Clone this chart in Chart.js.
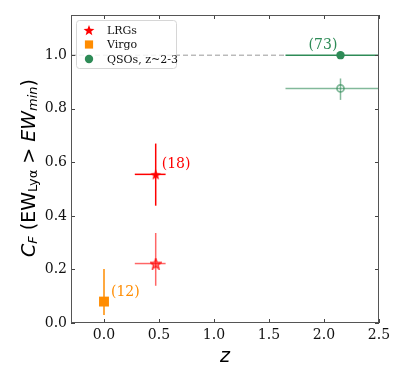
<!DOCTYPE html>
<html>
<head>
<meta charset="utf-8">
<script src="https://cdn.jsdelivr.net/npm/chart.js@4"></script>
<style>
  html, body { margin: 0; padding: 0; background: #fff; }
  #wrap { width: 407px; height: 378px; }
</style>
</head>
<body>
<div id="wrap"><canvas id="chart" width="407" height="378"></canvas></div>
<script>
// data
const lrgZ = [0.47, 0.47];
const lrgCF = [0.555, 0.222];
const lrgZLo = [0.28, 0.28];
const lrgZHi = [0.56, 0.56];
const lrgCFLo = [0.438, 0.139];
const lrgCFHi = [0.670, 0.336];

const virgoZ = [0.0];
const virgoCF = [0.08];
const virgoCFLo = [0.03];
const virgoCFHi = [0.202];

const qsoZ = [2.15, 2.15];
const qsoCF = [1.0, 0.876];
const qsoZLo = [1.65, 1.65];
const qsoZHi = [2.65, 2.65];
const qsoCFLo = [0.995, 0.833];
const qsoCFHi = [1.005, 0.913];

const refLineZ = [-0.3, 1.65];
const refLineCF = [1.0, 1.0];

const noteText = ["(73)", "(18)", "(12)"];
const noteZ = [1.86, 0.525, 0.063];
const noteCF = [1.037, 0.592, 0.116];

const xTicks = [0.0, 0.5, 1.0, 1.5, 2.0, 2.5];
const yTicks = [0.0, 0.2, 0.4, 0.6, 0.8, 1.0];

const RED = "#ff0000";
const RED_LIGHT = "rgba(255,0,0,0.6)";
const ORANGE = "#ff8c00";
const GREEN = "#2e8b57";
const GREEN_LIGHT = "rgba(46,139,87,0.6)";
const noteColors = [GREEN, RED, ORANGE];

// filled 5-point star like matplotlib '*'
function starImage(size, fill, stroke) {
    const c = document.createElement("canvas");
    c.width = size; c.height = size;
    const g = c.getContext("2d");
    const cx = size / 2, cy = size / 2 + 0.7;
    const R = size / 2 - 0.3, r = R * 0.42;
    g.beginPath();
    for (let i = 0; i < 10; i++) {
        const a = -Math.PI / 2 + i * Math.PI / 5;
        const rad = i % 2 === 0 ? R : r;
        g.lineTo(cx + rad * Math.cos(a), cy + rad * Math.sin(a));
    }
    g.closePath();
    g.fillStyle = fill;
    g.fill();
    if (stroke) { g.strokeStyle = stroke; g.lineWidth = 1.2; g.stroke(); }
    return c;
}

const starSolid = starImage(12, RED);
const starLight = starImage(12, "rgba(255,0,0,0.45)", "rgba(255,0,0,0.85)");

function errBars(xs, ys, xlo, xhi, ylo, yhi, color) {
    const sets = [];
    xs.forEach((x, i) => {
        const col = Array.isArray(color) ? color[i] : color;
        if (xlo && xhi) {
            sets.push({ data: [{ x: xlo[i], y: ys[i] }, { x: xhi[i], y: ys[i] }], borderColor: col });
        }
        sets.push({ data: [{ x: x, y: ylo[i] }, { x: x, y: yhi[i] }], borderColor: col });
    });
    return sets.map(s => Object.assign(s, {
        type: "line", showLine: true, pointRadius: 0, borderWidth: 1.5, order: 5
    }));
}

const markers = [
    {
        label: "LRGs", data: [{ x: lrgZ[0], y: lrgCF[0] }],
        pointStyle: starSolid, pointRadius: 6, order: 1
    },
    {
        label: "LRGs (light)", data: [{ x: lrgZ[1], y: lrgCF[1] }],
        pointStyle: starLight, pointRadius: 6, order: 1
    },
    {
        label: "Virgo", data: virgoZ.map((z, i) => ({ x: z, y: virgoCF[i] })),
        pointStyle: "rect", pointRadius: 7, backgroundColor: ORANGE, borderColor: ORANGE,
        borderWidth: 0, order: 1
    },
    {
        label: "QSOs, z~2-3", data: [{ x: qsoZ[0], y: qsoCF[0] }],
        pointStyle: "circle", pointRadius: 4.2, backgroundColor: GREEN, borderColor: GREEN,
        borderWidth: 0, order: 1
    },
    {
        label: "QSO open", data: [{ x: qsoZ[1], y: qsoCF[1] }],
        pointStyle: "circle", pointRadius: 3.5, backgroundColor: "rgba(0,0,0,0)",
        borderColor: GREEN_LIGHT, borderWidth: 1.8, order: 1
    }
];

const datasets = markers.concat(
    errBars(lrgZ, lrgCF, lrgZLo, lrgZHi, lrgCFLo, lrgCFHi, [RED, RED_LIGHT]),
    errBars(virgoZ, virgoCF, null, null, virgoCFLo, virgoCFHi, ORANGE),
    errBars(qsoZ, qsoCF, qsoZLo, qsoZHi, qsoCFLo, qsoCFHi, [GREEN, GREEN_LIGHT]),
    [{
        type: "line", showLine: true, pointRadius: 0, borderWidth: 1, borderColor: "#999",
        borderDash: [5, 3], order: 9,
        data: refLineZ.map((z, i) => ({ x: z, y: refLineCF[i] }))
    }]
);

// inward ticks on all sides, annotations, legend box and y-title
const decor = {
    id: "decor",
    afterDraw(chart) {
        const ctx = chart.ctx;
        const a = chart.chartArea;
        const xs = chart.scales.x, ys = chart.scales.y;
        ctx.save();
        ctx.strokeStyle = "#444";
        ctx.lineWidth = 1;
        ctx.beginPath();
        xTicks.forEach(v => {
            const px = Math.round(xs.getPixelForValue(v)) + 0.5;
            ctx.moveTo(px, a.bottom); ctx.lineTo(px, a.bottom - 4);
            ctx.moveTo(px, a.top); ctx.lineTo(px, a.top + 4);
        });
        yTicks.forEach(v => {
            const py = Math.round(ys.getPixelForValue(v)) + 0.5;
            ctx.moveTo(a.left, py); ctx.lineTo(a.left + 4, py);
            ctx.moveTo(a.right, py); ctx.lineTo(a.right - 4, py);
        });
        ctx.stroke();
        ctx.strokeStyle = "#555";
        ctx.strokeRect(a.left + 0.5, a.top + 0.5, a.right - a.left - 1, a.bottom - a.top - 1);

        // number annotations
        ctx.font = "14px 'DejaVu Serif'";
        ctx.textBaseline = "middle";
        ctx.textAlign = "left";
        noteText.forEach((t, i) => {
            ctx.fillStyle = noteColors[i];
            ctx.fillText(t, xs.getPixelForValue(noteZ[i]), ys.getPixelForValue(noteCF[i]));
        });

        // legend
        const lx = a.left + 5, ly = a.top + 5, lw = 100, lh = 48;
        ctx.fillStyle = "rgba(255,255,255,0.85)";
        ctx.strokeStyle = "#d6d6d6";
        ctx.beginPath();
        ctx.roundRect(lx + 0.5, ly + 0.5, lw, lh, 3);
        ctx.fill(); ctx.stroke();
        const entries = [
            { text: "LRGs", style: starSolid, r: 6, col: RED },
            { text: "Virgo", style: "rect", r: 5.8, col: ORANGE },
            { text: "QSOs, z~2-3", style: "circle", r: 4.2, col: GREEN }
        ];
        ctx.font = "11px 'DejaVu Serif'";
        entries.forEach((e, i) => {
            const cy = ly + 10 + i * 14.5;
            ctx.fillStyle = e.col;
            ctx.strokeStyle = e.col;
            Chart.helpers.drawPoint(ctx, { pointStyle: e.style, radius: e.r, borderWidth: 0 }, lx + 13, cy);
            ctx.fillStyle = "#111";
            ctx.fillText(e.text, lx + 31, cy + 1);
        });

        // y title with subscripts, rotated
        ctx.translate(30, (a.top + a.bottom) / 2 - 1);
        ctx.rotate(-Math.PI / 2);
        const big = 19, small = 13;
        const parts = [
            { t: "C", f: "italic " + big + "px 'DejaVu Sans'", dy: 0 },
            { t: "F", f: "italic " + small + "px 'DejaVu Sans'", dy: 4 },
            { t: " (EW", f: big + "px 'DejaVu Sans'", dy: 0 },
            { t: "Lyα", f: small + "px 'DejaVu Sans'", dy: 4 },
            { t: " > ", f: big + "px 'DejaVu Sans'", dy: 0 },
            { t: "EW", f: "italic " + big + "px 'DejaVu Sans'", dy: 0 },
            { t: "min", f: "italic " + small + "px 'DejaVu Sans'", dy: 4 },
            { t: ")", f: big + "px 'DejaVu Sans'", dy: 0 }
        ];
        let total = 0;
        parts.forEach(p => { ctx.font = p.f; total += ctx.measureText(p.t).width; });
        let x = -total / 2;
        ctx.fillStyle = "#000";
        ctx.textBaseline = "middle";
        parts.forEach(p => {
            ctx.font = p.f;
            ctx.fillText(p.t, x, p.dy);
            x += ctx.measureText(p.t).width;
        });
        ctx.restore();
    }
};

new Chart(document.getElementById("chart"), {
    type: "scatter",
    data: { datasets: datasets },
    plugins: [decor],
    options: {
        responsive: false,
        animation: false,
        layout: { padding: { top: 15, right: 28, left: 0, bottom: 0 } },
        plugins: {
            legend: { display: false },
            tooltip: { enabled: false }
        },
        scales: {
            x: {
                type: "linear", min: -0.3, max: 2.5,
                afterBuildTicks: s => { s.ticks = xTicks.map(v => ({ value: v })); },
                afterFit: s => { s.height = 55; },
                grid: { display: false, drawTicks: false },
                border: { display: false },
                ticks: {
                    color: "#111", padding: 4,
                    font: { family: "'DejaVu Serif'", size: 14 },
                    callback: v => v.toFixed(1)
                },
                title: {
                    display: true, text: "z", color: "#000", padding: { top: 0, bottom: 10 },
                    font: { family: "'DejaVu Sans'", size: 19, style: "italic" }
                }
            },
            y: {
                type: "linear", min: 0, max: 1.15,
                afterBuildTicks: s => { s.ticks = yTicks.map(v => ({ value: v })); },
                afterFit: s => { s.width = 71; },
                grid: { display: false, drawTicks: false },
                border: { display: false },
                ticks: {
                    color: "#111", padding: 4,
                    font: { family: "'DejaVu Serif'", size: 14 },
                    callback: v => v.toFixed(1)
                }
            }
        }
    }
});
</script>
</body>
</html>
